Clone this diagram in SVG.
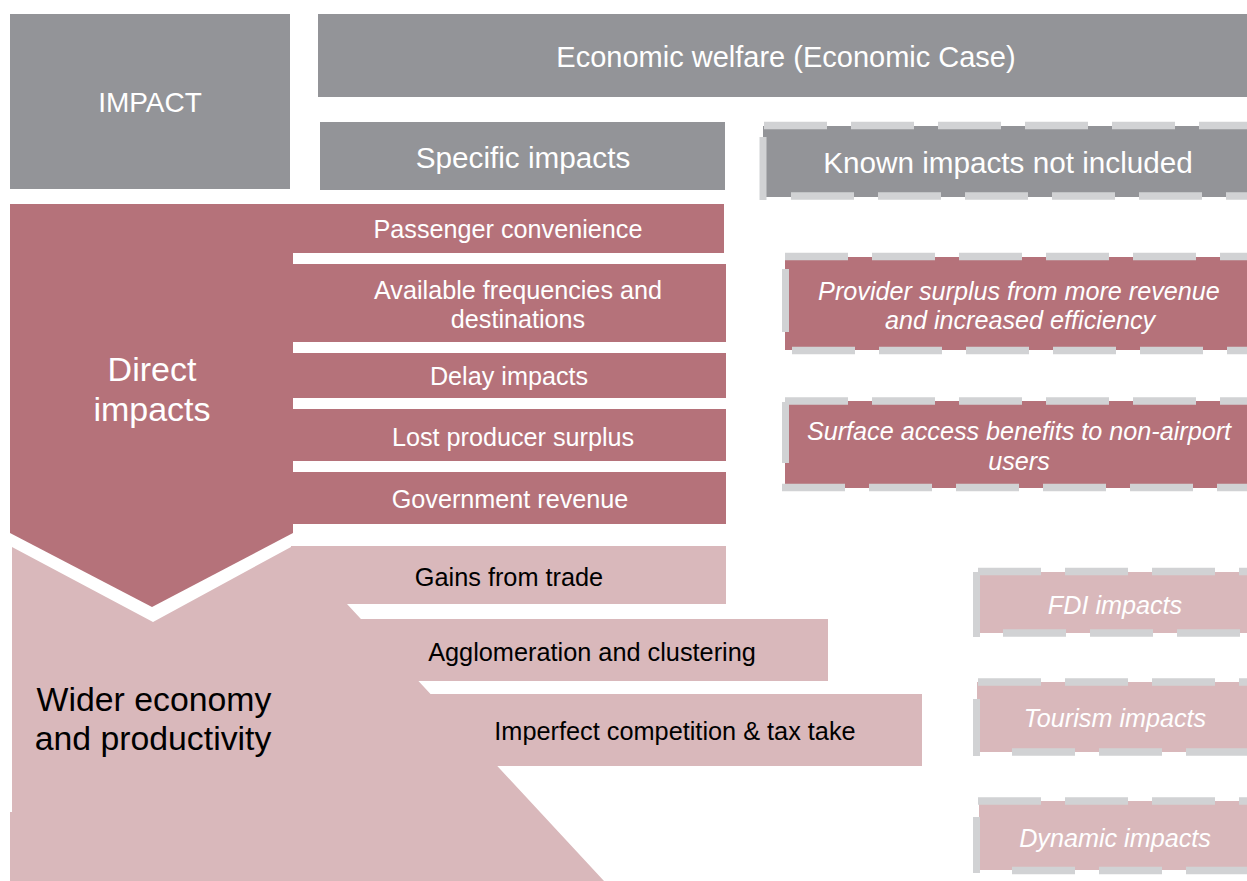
<svg xmlns="http://www.w3.org/2000/svg" width="1247" height="881" viewBox="0 0 1247 881">
<style>
.gray{fill:#939498}
.rose{fill:#b5727a}
.pink{fill:#d9b8bb}
.dash{stroke:#d1d2d4;stroke-width:7.5;stroke-dasharray:63 24;fill:none}
.solid{stroke:#d1d2d4;stroke-width:7;fill:none}
text{font-family:"Liberation Sans",Arial,sans-serif;text-anchor:middle}
.h{font-size:29px;fill:#fff}
.h2{font-size:29.7px;fill:#fff}
.r{font-size:25.2px;fill:#fff}
.k{font-size:25.3px;fill:#000}
.i{font-size:25.2px;fill:#fff;font-style:italic}
.big{font-size:34px;fill:#fff}
.bigk{font-size:33.8px;fill:#000}
</style>
<rect width="1247" height="881" fill="#fff"/>
<g id="impact">
<rect class="gray" x="10" y="14" width="280" height="175"/>
<text x="150" y="112" style="font-size:28px;fill:#fff">IMPACT</text>
</g>
<g id="economic-welfare">
<rect class="gray" x="318" y="14" width="929" height="83"/>
<text class="h" x="786" y="67">Economic welfare (Economic Case)</text>
</g>
<g id="specific-impacts">
<rect class="gray" x="320" y="122" width="405" height="68"/>
<text class="h2" x="523" y="168">Specific impacts</text>
</g>
<g id="known-impacts">
<rect class="gray" x="763" y="126" width="484" height="71"/>
<line class="dash" x1="764" y1="125.5" x2="1247" y2="125.5"/>
<line class="dash" x1="791" y1="196" x2="1247" y2="196"/>
<line class="solid" x1="763" y1="137" x2="763" y2="200"/>
<text class="h2" x="1008" y="173">Known impacts not included</text>
</g>
<g id="wider-economy">
<polygon class="pink" points="12,547 153,622 291,547 291,604 347,604 604,881 10,881 10,812 12,812"/>
<text class="bigk" x="154" y="711">Wider economy</text>
<text class="bigk" x="153" y="750">and productivity</text>
</g>
<g id="direct-impacts">
<polygon class="rose" points="10,204 293,204 293,533 152,607 10,533"/>
<text class="big" x="152" y="381">Direct</text>
<text class="big" x="152" y="421">impacts</text>
</g>
<g id="passenger-convenience">
<rect class="rose" x="290" y="204" width="434" height="49"/>
<text class="r" x="508" y="238">Passenger convenience</text>
</g>
<g id="available-frequencies">
<rect class="rose" x="290" y="264" width="436" height="78"/>
<text class="r" x="518" y="299">Available frequencies and</text>
<text class="r" x="518" y="328">destinations</text>
</g>
<g id="delay-impacts">
<rect class="rose" x="290" y="353" width="436" height="45"/>
<text class="r" x="509" y="385">Delay impacts</text>
</g>
<g id="lost-producer-surplus">
<rect class="rose" x="290" y="409" width="436" height="52"/>
<text class="r" x="513" y="446">Lost producer surplus</text>
</g>
<g id="government-revenue">
<rect class="rose" x="290" y="472" width="436" height="52"/>
<text class="r" x="510" y="508">Government revenue</text>
</g>
<g id="gains-from-trade">
<rect class="pink" x="291" y="546" width="435" height="58"/>
<text class="k" x="509" y="586">Gains from trade</text>
</g>
<g id="agglomeration">
<rect class="pink" x="360" y="619" width="468" height="62"/>
<text class="k" x="592" y="661">Agglomeration and clustering</text>
</g>
<g id="imperfect-competition">
<rect class="pink" x="430" y="694" width="492" height="72"/>
<text class="k" x="675" y="740">Imperfect competition &amp; tax take</text>
</g>
<g id="provider-surplus">
<rect class="rose" x="785" y="257" width="462" height="93"/>
<line class="dash" x1="785" y1="256.5" x2="1247" y2="256.5"/>
<line class="dash" x1="792" y1="350.5" x2="1247" y2="350.5"/>
<line class="solid" x1="785.5" y1="269" x2="785.5" y2="332"/>
<text class="i" x="1019" y="300">Provider surplus from more revenue</text>
<text class="i" x="1020" y="329">and increased efficiency</text>
</g>
<g id="surface-access">
<rect class="rose" x="785" y="401" width="462" height="87"/>
<line class="dash" x1="785" y1="401" x2="1247" y2="401"/>
<line class="dash" x1="782" y1="487.5" x2="1247" y2="487.5"/>
<line class="solid" x1="785.5" y1="402" x2="785.5" y2="463"/>
<text class="i" x="1019" y="440">Surface access benefits to non-airport</text>
<text class="i" x="1019" y="470">users</text>
</g>
<g id="fdi-impacts">
<rect class="pink" x="980" y="572" width="267" height="61"/>
<line class="dash" x1="978" y1="571.5" x2="1247" y2="571.5"/>
<line class="dash" x1="1003" y1="633" x2="1247" y2="633"/>
<line class="solid" x1="976.5" y1="572" x2="976.5" y2="637"/>
<text class="i" x="1115" y="614">FDI impacts</text>
</g>
<g id="tourism-impacts">
<rect class="pink" x="977" y="682" width="270" height="70"/>
<line class="dash" x1="978" y1="682" x2="1247" y2="682"/>
<line class="dash" x1="1012" y1="752" x2="1247" y2="752"/>
<line class="solid" x1="976.5" y1="699" x2="976.5" y2="756"/>
<text class="i" x="1115" y="727">Tourism impacts</text>
</g>
<g id="dynamic-impacts">
<rect class="pink" x="979" y="801" width="268" height="69"/>
<line class="dash" x1="978" y1="801" x2="1247" y2="801"/>
<line class="dash" x1="1012" y1="870.5" x2="1247" y2="870.5"/>
<line class="solid" x1="976.5" y1="817" x2="976.5" y2="873"/>
<text class="i" x="1115" y="847">Dynamic impacts</text>
</g>
<g id="connectors"/>
</svg>
